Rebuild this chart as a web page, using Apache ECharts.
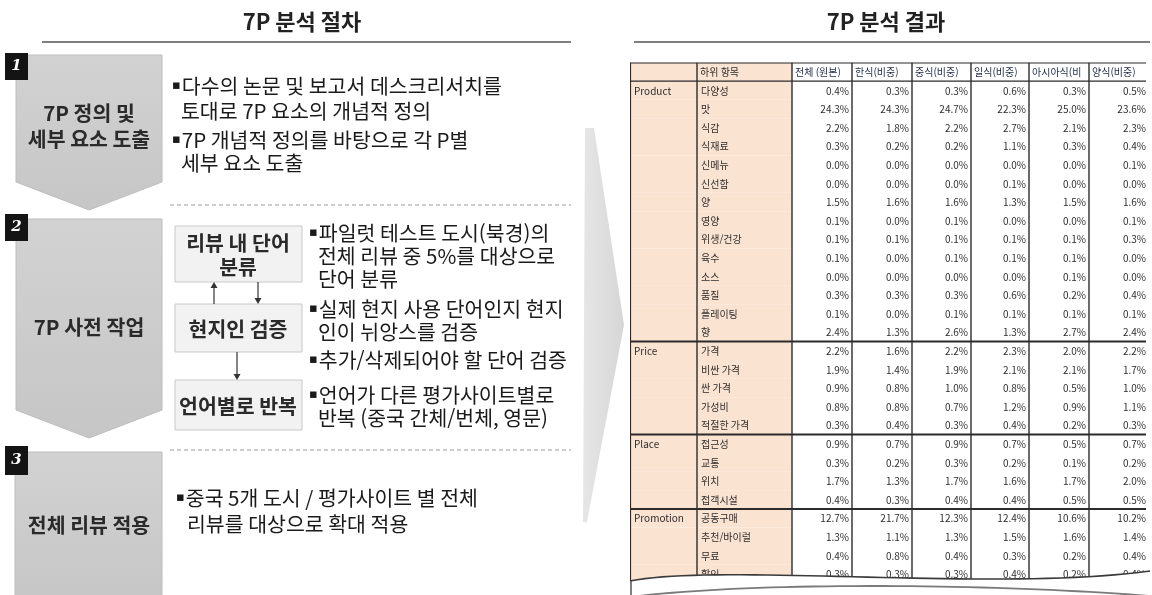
<!DOCTYPE html>
<html lang="ko">
<head>
<meta charset="UTF-8">
<title>7P 분석 절차 / 결과</title>
<style>
    html,body{
        margin: 0;
        padding: 0;
        background: #fff;
    }
    #chartmain{
        width: 1152px;
        height: 595px;
    }
</style>
</head>
<body>
<div id="chartmain"></div>
<script src="https://cdn.jsdelivr.net/npm/echarts@6/dist/echarts.min.js"></script>
<script type="text/javascript">
    // 표 데이터
    var groups = ['Product', 'Price', 'Place', 'Promotion'];
    var groupSizes = [14, 5, 4, 4];
    var items = ['다양성', '맛', '식감', '식재료', '신메뉴', '신선함', '양', '영양', '위생/건강', '육수', '소스', '품질', '플레이팅', '향',
        '가격', '비싼 가격', '싼 가격', '가성비', '적절한 가격',
        '접근성', '교통', '위치', '접객시설',
        '공동구매', '추천/바이럴', '무료', '할인'];
    var headers = ['하위 항목', '전체 (원본)', '한식(비중)', '중식(비중)', '일식(비중)', '아시아식(비중)', '양식(비중)'];
    var valTotal    = [0.4, 24.3, 2.2, 0.3, 0.0, 0.0, 1.5, 0.1, 0.1, 0.1, 0.0, 0.3, 0.1, 2.4, 2.2, 1.9, 0.9, 0.8, 0.3, 0.9, 0.3, 1.7, 0.4, 12.7, 1.3, 0.4, 0.3];
    var valKorean   = [0.3, 24.3, 1.8, 0.2, 0.0, 0.0, 1.6, 0.0, 0.1, 0.0, 0.0, 0.3, 0.0, 1.3, 1.6, 1.4, 0.8, 0.8, 0.4, 0.7, 0.2, 1.3, 0.3, 21.7, 1.1, 0.8, 0.3];
    var valChinese  = [0.3, 24.7, 2.2, 0.2, 0.0, 0.0, 1.6, 0.1, 0.1, 0.1, 0.0, 0.3, 0.1, 2.6, 2.2, 1.9, 1.0, 0.7, 0.3, 0.9, 0.3, 1.7, 0.4, 12.3, 1.3, 0.4, 0.3];
    var valJapanese = [0.6, 22.3, 2.7, 1.1, 0.0, 0.1, 1.3, 0.0, 0.1, 0.1, 0.0, 0.6, 0.1, 1.3, 2.3, 2.1, 0.8, 1.2, 0.4, 0.7, 0.2, 1.6, 0.4, 12.4, 1.5, 0.3, 0.4];
    var valAsian    = [0.3, 25.0, 2.1, 0.3, 0.0, 0.0, 1.5, 0.0, 0.1, 0.1, 0.1, 0.2, 0.1, 2.7, 2.0, 2.1, 0.5, 0.9, 0.2, 0.5, 0.1, 1.7, 0.5, 10.6, 1.6, 0.2, 0.2];
    var valWestern  = [0.5, 23.6, 2.3, 0.4, 0.1, 0.0, 1.6, 0.1, 0.3, 0.0, 0.0, 0.4, 0.1, 2.4, 2.2, 1.7, 1.0, 1.1, 0.3, 0.7, 0.2, 2.0, 0.5, 10.2, 1.4, 0.4, 0.4];

    window.onload = function () {
        var valueCols = [valTotal, valKorean, valChinese, valJapanese, valAsian, valWestern];
        var colEdges = [0, 67, 162, 222, 282, 341, 399, 459, 519];   // 표 열 경계(px)
        var ROW_H = 18.6;
        var TABLE_TOP = 62.5;
        var PEACH = '#fbe3d2';
        var FONT = '"Noto Sans CJK KR", "Noto Sans", sans-serif';

        // 셀 목록 만들기
        var cells = [];
        cells.push({col: 0, row: 0, text: '', kind: 'head'});
        for (var h = 0; h < headers.length; h++) {
            cells.push({col: h + 1, row: 0, text: headers[h], kind: 'head'});
        }
        var groupStarts = [];
        var r = 1;
        for (var g = 0; g < groups.length; g++) {
            groupStarts.push(r);
            r += groupSizes[g];
        }
        for (var i = 0; i < items.length; i++) {
            var row = i + 1;
            var gi = groupStarts.indexOf(row);
            cells.push({col: 0, row: row, text: gi >= 0 ? groups[gi] : '', kind: 'group'});
            cells.push({col: 1, row: row, text: items[i], kind: 'item'});
            for (var c = 0; c < valueCols.length; c++) {
                cells.push({col: c + 2, row: row, text: valueCols[c][i].toFixed(1) + '%', kind: 'val'});
            }
        }

        // 테두리 목록
        var borders = [];
        for (var e = 0; e < colEdges.length; e++) borders.push({dir: 'v', at: colEdges[e], w: e === 0 ? 2.2 : 1.4});
        borders.push({dir: 'h', at: 0, w: 2.2});
        borders.push({dir: 'h', at: 1, w: 1.2});
        for (var s = 1; s < groupStarts.length; s++) borders.push({dir: 'h', at: groupStarts[s], w: 2});

        function renderCell(params, api) {
            var cell = cells[params.dataIndex];
            var p0 = api.coord([colEdges[api.value(0)], api.value(1)]);
            var p1 = api.coord([colEdges[api.value(0) + 1], api.value(1) + 1]);
            var w = p1[0] - p0[0], hh = p1[1] - p0[1];
            var children = [{
                type: 'rect',
                shape: {x: p0[0], y: p0[1], width: w, height: hh},
                style: {fill: cell.col < 2 ? PEACH : '#fff'}
            }];
            if (cell.text) {
                var right = cell.kind === 'val';
                children.push({
                    type: 'text',
                    x: right ? p1[0] - 3 : p0[0] + (cell.kind === 'head' ? 3 : 4),
                    y: p0[1] + hh / 2 + 0.5,
                    style: {
                        text: cell.text,
                        fill: cell.kind === 'head' && cell.col > 1 ? '#1d2a44' : '#2e2e2e',
                        fontSize: 10,
                        fontFamily: FONT,
                        textAlign: right ? 'right' : 'left',
                        textVerticalAlign: 'middle',
                        width: w - 4,
                        overflow: 'truncate',
                        ellipsis: ''
                    }
                });
            }
            return {type: 'group', children: children};
        }

        function renderBorder(params, api) {
            var b = borders[params.dataIndex];
            var a, z;
            if (b.dir === 'v') {
                a = api.coord([b.at, 0]);
                z = api.coord([b.at, 29]);
            } else {
                a = api.coord([0, b.at]);
                z = api.coord([600, b.at]);
            }
            return {
                type: 'line',
                shape: {x1: a[0], y1: a[1], x2: z[0], y2: z[1]},
                style: {stroke: '#2b2b2b', lineWidth: b.w}
            };
        }

        // 찢어진 하단 곡선
        function bez(p0, p1, p2, p3, n) {
            var pts = [];
            for (var k = 0; k <= n; k++) {
                var t = k / n, u = 1 - t;
                pts.push([
                    u*u*u*p0[0] + 3*u*u*t*p1[0] + 3*u*t*t*p2[0] + t*t*t*p3[0],
                    u*u*u*p0[1] + 3*u*u*t*p1[1] + 3*u*t*t*p2[1] + t*t*t*p3[1]
                ]);
            }
            return pts;
        }
        var upper = bez([630, 581], [720, 563], [1000, 592], [1150, 571], 40);
        var lower = bez([630, 597], [760, 581], [1000, 584], [1150, 596], 40);
        var cover = upper.concat([[1152, 600], [626, 600]]);

        function txt(x, y, s, size, opt) {
            opt = opt || {};
            var bullet = s.charAt(0) === '▪';
            return {
                type: 'text', x: x, y: y, z: 10,
                style: {
                    text: bullet ? '{b|▪}' + s.slice(1) : s,
                    fill: opt.fill || '#1a1a1a',
                    fontSize: size,
                    fontWeight: opt.bold ? 'bold' : 'normal',
                    fontFamily: FONT,
                    textAlign: opt.align || 'left',
                    textVerticalAlign: 'middle',
                    rich: {b: {fontFamily: '"DejaVu Sans", sans-serif', fontSize: 13, fill: '#1a1a1a', padding: [0, 1, 0, 0]}}
                }
            };
        }
        function numBox(x, y, w, hgt, n) {
            return [
                {type: 'rect', z: 9, shape: {x: x, y: y, width: w, height: hgt}, style: {fill: '#141414'}},
                {type: 'text', z: 10, x: x + w / 2, y: y + hgt / 2, style: {
                    text: n, fill: '#fff', font: 'italic bold 15px "DejaVu Serif", serif',
                    textAlign: 'center', textVerticalAlign: 'middle'}}
            ];
        }
        function arrow(x, y1, y2) {
            var dir = y2 > y1 ? 1 : -1;
            return [
                {type: 'line', z: 8, shape: {x1: x, y1: y1, x2: x, y2: y2 - dir * 5}, style: {stroke: '#333', lineWidth: 1.2}},
                {type: 'polygon', z: 8, shape: {points: [[x - 3.5, y2 - dir * 6], [x + 3.5, y2 - dir * 6], [x, y2]]}, style: {fill: '#333'}}
            ];
        }
        var stepFill = new echarts.graphic.LinearGradient(0, 0, 0, 1, [
            {offset: 0, color: '#d2d2d2'}, {offset: 1, color: '#c6c6c6'}]);
        var boxStyle = {fill: '#f2f2f2', stroke: '#c9c9c9', lineWidth: 1};
        var BT = 20.5;   // 본문 글자 크기
        var ST = 20.5;   // 단계 글자 크기

        var elements = [
            // 제목
            txt(302, 22, '7P 분석 절차', 22, {bold: true, align: 'center', fill: '#222'}),
            {type: 'line', shape: {x1: 42, y1: 42, x2: 571, y2: 42}, style: {stroke: '#555', lineWidth: 1.5}},
            txt(886, 22, '7P 분석 결과', 22, {bold: true, align: 'center', fill: '#222'}),
            {type: 'line', shape: {x1: 634, y1: 42, x2: 1150, y2: 42}, style: {stroke: '#555', lineWidth: 1.5}},

            // 큰 화살표
            {type: 'polygon', z: 1, shape: {points: [[585, 128], [594, 128], [624, 325], [587, 522], [583, 522]]},
                style: {fill: new echarts.graphic.LinearGradient(0, 0, 1, 0, [
                    {offset: 0, color: '#e6e6e6'}, {offset: 1, color: '#d6d6d6'}])}},

            // 1단계
            {type: 'polygon', z: 5, shape: {points: [[16, 55], [162, 55], [162, 182], [89, 210], [16, 182]]},
                style: {fill: stepFill, stroke: '#bdbdbd', lineWidth: 1}},
            txt(89, 113, '7P 정의 및', ST, {bold: true, align: 'center', fill: '#2a2a2a'}),
            txt(89, 139, '세부 요소 도출', ST, {bold: true, align: 'center', fill: '#2a2a2a'}),
            txt(172, 86, '▪다수의 논문 및 보고서 데스크리서치를', BT),
            txt(181, 111, '토대로 7P 요소의 개념적 정의', BT),
            txt(172, 140, '▪7P 개념적 정의를 바탕으로 각 P별', BT),
            txt(181, 163, '세부 요소 도출', BT),
            {type: 'line', shape: {x1: 170, y1: 205, x2: 571, y2: 205}, style: {stroke: '#9a9a9a', lineWidth: 1, lineDash: [4, 3]}},

            // 2단계
            {type: 'polygon', z: 5, shape: {points: [[16, 219], [162, 219], [162, 410], [89, 438], [16, 410]]},
                style: {fill: stepFill, stroke: '#bdbdbd', lineWidth: 1}},
            txt(89, 327, '7P 사전 작업', ST, {bold: true, align: 'center', fill: '#2a2a2a'}),
            {type: 'rect', z: 6, shape: {x: 175, y: 226, width: 127, height: 56}, style: boxStyle},
            {type: 'rect', z: 6, shape: {x: 175, y: 304, width: 127, height: 48}, style: boxStyle},
            {type: 'rect', z: 6, shape: {x: 175, y: 380, width: 127, height: 50}, style: boxStyle},
            txt(238, 243, '리뷰 내 단어', ST, {bold: true, align: 'center', fill: '#2a2a2a'}),
            txt(238, 267, '분류', ST, {bold: true, align: 'center', fill: '#2a2a2a'}),
            txt(238, 329, '현지인 검증', ST, {bold: true, align: 'center', fill: '#2a2a2a'}),
            txt(238, 406, '언어별로 반복', ST, {bold: true, align: 'center', fill: '#2a2a2a'}),
            txt(309, 233, '▪파일럿 테스트 도시(북경)의', BT),
            txt(318, 256, '전체 리뷰 중 5%를 대상으로', BT),
            txt(318, 279, '단어 분류', BT),
            txt(309, 309, '▪실제 현지 사용 단어인지 현지', BT),
            txt(318, 332, '인이 뉘앙스를 검증', BT),
            txt(309, 360, '▪추가/삭제되어야 할 단어 검증', BT),
            txt(309, 395, '▪언어가 다른 평가사이트별로', BT),
            txt(318, 418, '반복 (중국 간체/번체, 영문)', BT),
            {type: 'line', shape: {x1: 170, y1: 450, x2: 571, y2: 450}, style: {stroke: '#9a9a9a', lineWidth: 1, lineDash: [4, 3]}},

            // 3단계
            {type: 'rect', z: 5, shape: {x: 15, y: 452, width: 147, height: 150}, style: {fill: stepFill, stroke: '#bdbdbd', lineWidth: 1}},
            txt(89, 525, '전체 리뷰 적용', ST, {bold: true, align: 'center', fill: '#2a2a2a'}),
            txt(176, 498, '▪중국 5개 도시 / 평가사이트 별 전체', BT),
            txt(187, 524, '리뷰를 대상으로 확대 적용', BT),

            // 찢어진 표 하단
            {type: 'polygon', z: 50, shape: {points: cover}, style: {fill: '#fff'}},
            {type: 'polyline', z: 51, shape: {points: upper}, style: {stroke: '#3a3a3a', lineWidth: 1.6}},
            {type: 'polyline', z: 51, shape: {points: lower}, style: {stroke: '#7a7a7a', lineWidth: 1.8}},
            {type: 'line', z: 51, shape: {x1: 631, y1: 581, x2: 631, y2: 595}, style: {stroke: '#555', lineWidth: 1.5}}
        ];
        elements = elements.concat(numBox(5, 53, 23, 27, '1'), numBox(5, 214, 23, 27, '2'), numBox(5, 446, 23, 29, '3'));
        elements = elements.concat(arrow(214, 304, 282), arrow(258, 282, 304), arrow(237, 352, 380));

        var option = {
            animation: false,
            grid: {left: 630, top: TABLE_TOP, width: 516, height: 595 - TABLE_TOP},
            xAxis: {type: 'value', min: 0, max: 516, show: false},
            yAxis: {type: 'value', min: 0, max: (595 - TABLE_TOP) / ROW_H, inverse: true, show: false},
            graphic: {elements: elements},
            series: [{
                name: '셀',
                type: 'custom',
                clip: true,
                renderItem: renderCell,
                data: cells.map(function (c) { return [c.col, c.row]; }),
                z: 2
            }, {
                name: '테두리',
                type: 'custom',
                clip: true,
                renderItem: renderBorder,
                data: borders.map(function (b, k) { return [k, 0]; }),
                z: 3
            }]
        };

        var myChart = echarts.init(document.getElementById('chartmain'));
        myChart.setOption(option);
    };
</script>
</body>
</html>
